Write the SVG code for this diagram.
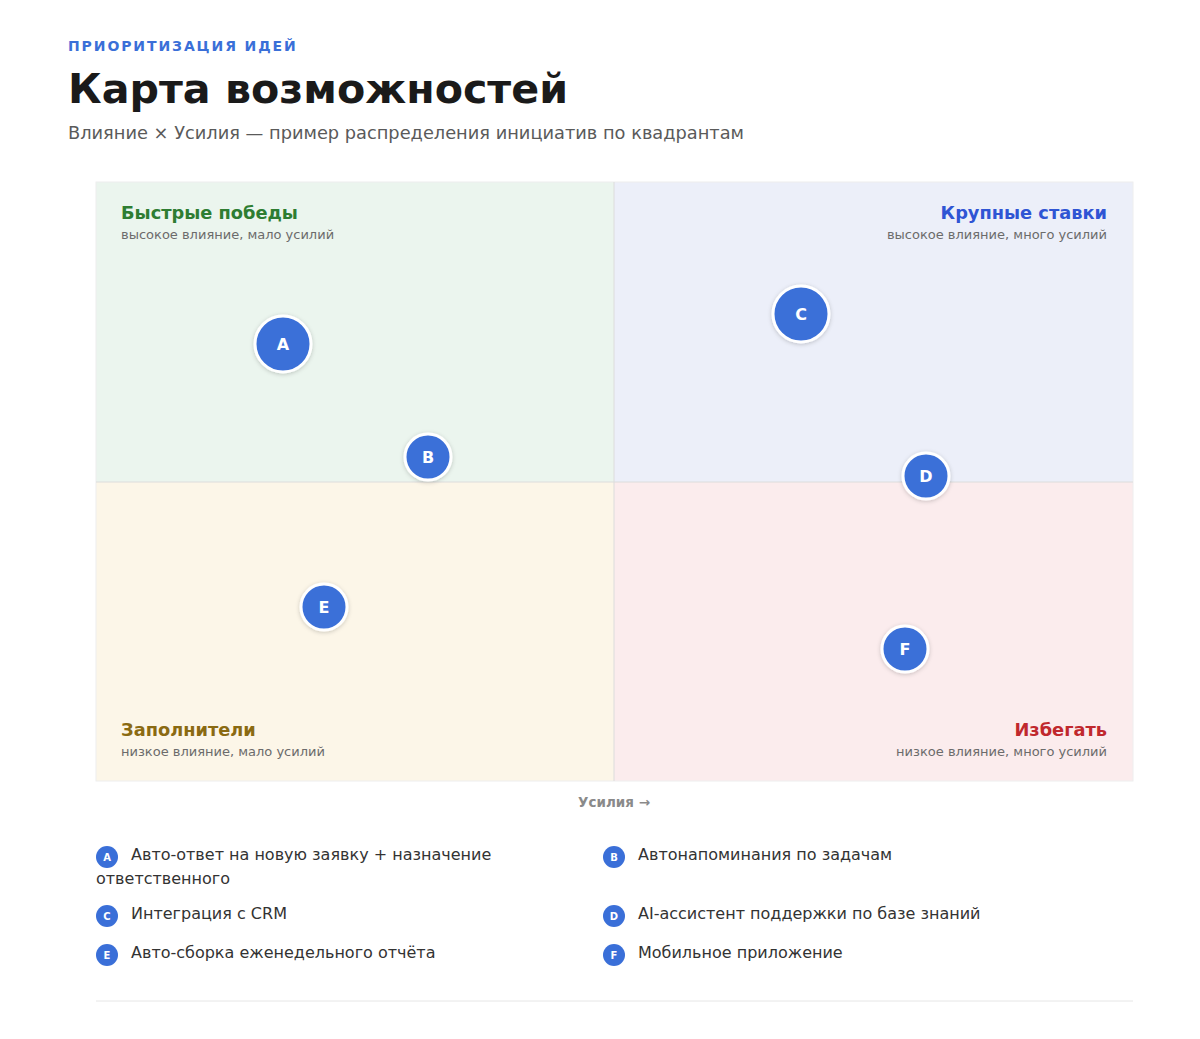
<svg xmlns="http://www.w3.org/2000/svg" width="1200" height="1039" viewBox="0 0 1200 1039">
<style>
text{font-family:"DejaVu Sans","Noto Sans",sans-serif}
.eyebrow{font-size:14px;font-weight:700;fill:#3a6fd8;letter-spacing:1.9px}
.title{font-size:41.2px;font-weight:700;fill:#1a1a1a}
.sub{font-size:17.8px;fill:#5a5a5a}
.qt{font-size:17.8px;font-weight:700}
.qs{font-size:13px;fill:#6b6b6b}
.axis{font-size:13.5px;font-weight:700;fill:#8a8a8a}
.dot{fill:#3a6fd8;stroke:#fff;stroke-width:3}
.dl{font-size:16px;font-weight:700;fill:#fff;text-anchor:middle}
.ld{fill:#3a6fd8}
.ll{font-size:10px;font-weight:700;fill:#fff;text-anchor:middle}
.lt{font-size:16px;fill:#333}
.div{stroke:#dcdcdc;stroke-width:1}
</style>
<defs>
<filter id="sh" x="-30%" y="-30%" width="160%" height="160%">
<feDropShadow dx="0" dy="1" stdDeviation="2" flood-color="#000" flood-opacity="0.2"/>
</filter>
</defs>
<rect width="1200" height="1039" fill="#fff"/>
<g id="header">
<text class="eyebrow" x="68" y="51">ПРИОРИТИЗАЦИЯ ИДЕЙ</text>
<text class="title" x="68" y="103">Карта возможностей</text>
<text class="sub" x="68" y="139">Влияние × Усилия — пример распределения инициатив по квадрантам</text>
</g>
<g id="quadrants">
<rect x="96" y="182" width="518" height="300" fill="#ebf5ee"/>
<rect x="614" y="182" width="519" height="300" fill="#eceff9"/>
<rect x="96" y="482" width="518" height="299" fill="#fcf6e8"/>
<rect x="614" y="482" width="519" height="299" fill="#fbeced"/>
<rect x="96" y="182" width="1037" height="599" fill="none" stroke="#eeeeee" stroke-width="1"/>
<line class="div" x1="614" y1="182" x2="614" y2="781"/>
<line class="div" x1="96" y1="482" x2="1133" y2="482"/>
</g>
<g id="q-quick">
<text class="qt" x="121" y="219" fill="#2e7d32">Быстрые победы</text>
<text class="qs" x="121" y="239">высокое влияние, мало усилий</text>
</g>
<g id="q-big">
<text class="qt" x="1107" y="219" fill="#2f55d4" text-anchor="end">Крупные ставки</text>
<text class="qs" x="1107" y="239" text-anchor="end">высокое влияние, много усилий</text>
</g>
<g id="q-fill">
<text class="qt" x="121" y="736" fill="#8a6a12">Заполнители</text>
<text class="qs" x="121" y="756">низкое влияние, мало усилий</text>
</g>
<g id="q-avoid">
<text class="qt" x="1107" y="736" fill="#c0282d" text-anchor="end">Избегать</text>
<text class="qs" x="1107" y="756" text-anchor="end">низкое влияние, много усилий</text>
</g>
<text class="axis" x="614" y="807" text-anchor="middle">Усилия →</text>
<g id="node-A"><circle class="dot" cx="283" cy="344" r="28" filter="url(#sh)"/><text class="dl" x="283" y="350">A</text></g>
<g id="node-B"><circle class="dot" cx="428" cy="457" r="23" filter="url(#sh)"/><text class="dl" x="428" y="463">B</text></g>
<g id="node-C"><circle class="dot" cx="801" cy="314" r="28" filter="url(#sh)"/><text class="dl" x="801" y="320">C</text></g>
<g id="node-D"><circle class="dot" cx="926" cy="476" r="23" filter="url(#sh)"/><text class="dl" x="926" y="482">D</text></g>
<g id="node-E"><circle class="dot" cx="324" cy="607" r="23" filter="url(#sh)"/><text class="dl" x="324" y="613">E</text></g>
<g id="node-F"><circle class="dot" cx="905" cy="649" r="23" filter="url(#sh)"/><text class="dl" x="905" y="655">F</text></g>
<g id="connectors"></g>
<g id="legend">
<g id="leg-A"><circle class="ld" cx="107" cy="857" r="11"/><text class="ll" x="107" y="861">A</text>
<text class="lt" x="131" y="860">Авто-ответ на новую заявку + назначение</text>
<text class="lt" x="96" y="884">ответственного</text></g>
<g id="leg-B"><circle class="ld" cx="614" cy="857" r="11"/><text class="ll" x="614" y="861">B</text>
<text class="lt" x="638" y="860">Автонапоминания по задачам</text></g>
<g id="leg-C"><circle class="ld" cx="107" cy="916" r="11"/><text class="ll" x="107" y="920">C</text>
<text class="lt" x="131" y="919">Интеграция с CRM</text></g>
<g id="leg-D"><circle class="ld" cx="614" cy="916" r="11"/><text class="ll" x="614" y="920">D</text>
<text class="lt" x="638" y="919">AI-ассистент поддержки по базе знаний</text></g>
<g id="leg-E"><circle class="ld" cx="107" cy="955" r="11"/><text class="ll" x="107" y="959">E</text>
<text class="lt" x="131" y="958">Авто-сборка еженедельного отчёта</text></g>
<g id="leg-F"><circle class="ld" cx="614" cy="955" r="11"/><text class="ll" x="614" y="959">F</text>
<text class="lt" x="638" y="958">Мобильное приложение</text></g>
</g>
<line x1="96" y1="1001" x2="1133" y2="1001" stroke="#e6e6e6" stroke-width="1"/>
</svg>
